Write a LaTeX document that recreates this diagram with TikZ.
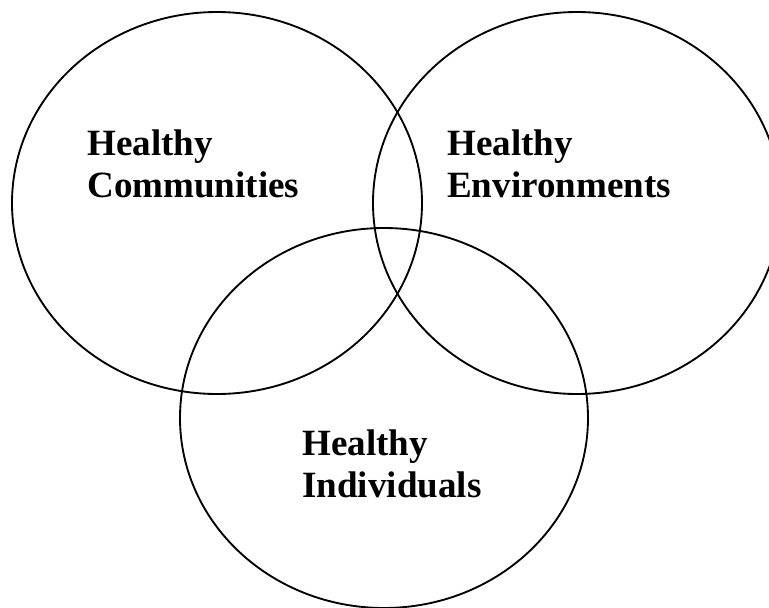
\documentclass[tikz,border=0pt]{standalone}
\usepackage{fontspec}
\setmainfont{Liberation Serif}
\usetikzlibrary{positioning}

\begin{document}
\begin{tikzpicture}[x=0.75pt, y=-0.75pt,
            ring/.style={line width=1.4pt},
            lbl/.style={align=left, anchor=north west, inner sep=0pt, font=\bfseries\fontsize{27.8}{31.5}\selectfont}]
            \useasboundingbox (0,0) rectangle (769,608);
            \clip (0,0) rectangle (769,608);
            \draw[ring] (217,203) ellipse [x radius=205, y radius=191];
            \draw[ring] (577,203) ellipse [x radius=204, y radius=191];
            \draw[ring] (384,418) ellipse [x radius=204, y radius=190];
            \node[lbl] (comm) at (87,130) {Healthy\\Communities};
            \node[lbl] (env) at (447,130) {Healthy\\Environments};
            \node[lbl] (ind) at (302,430) {Healthy\\Individuals};
        \end{tikzpicture}
\end{document}
